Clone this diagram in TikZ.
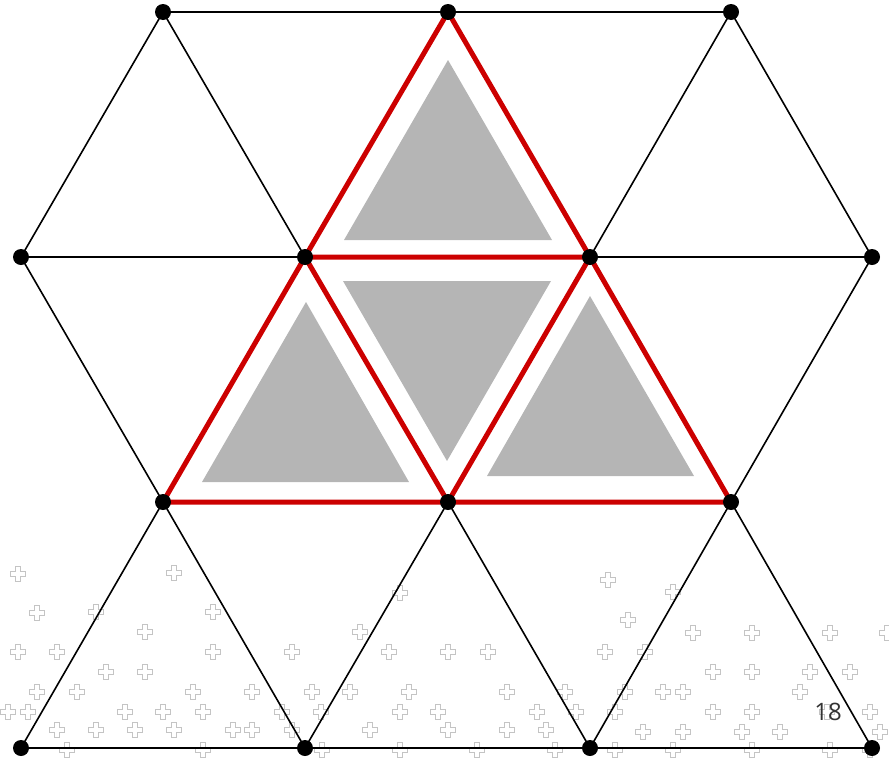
\documentclass[tikz,border=0pt]{standalone}
\usepackage{fontspec}
\newfontfamily\pagefont{Open Sans}
\definecolor{redline}{HTML}{CC0000}
\definecolor{fillgray}{HTML}{B5B5B5}
\definecolor{plusgray}{HTML}{C4C4C4}
\begin{document}
\begin{tikzpicture}[x=1pt,y=-1pt,
  edge/.style={black,line width=1.6pt},
  redge/.style={redline,line width=5pt,line cap=round,line join=round},
  tri/.style={fill=fillgray,draw=none},
  dot/.style={circle,fill=black,inner sep=0pt,minimum size=16pt},
  plusmark/.style={draw=plusgray,line width=0.8pt}]
\useasboundingbox (0,0) rectangle (889,758);
% background plus pattern
\foreach \px/\py in {18/574,174/573,37/613,96/612,213/612,145/632,18/652,57/652,213/652,292/652,
  106/672,145/672,37/692,77/692,193/692,252/692,8/712,28/712,125/712,163/712,203/712,282/712,
  57/730,96/730,135/730,174/730,233/730,252/730,292/730,67/750,203/750,
  400/593,360/632,389/652,448/652,488/652,312/692,350/692,409/692,507/692,565/692,
  321/712,400/712,438/712,537/712,576/712,370/730,448/730,507/730,546/730,322/750,400/750,477/750,555/750,
  608/580,673/592,628/620,693/633,752/633,830/633,887/633,605/652,645/652,713/672,752/672,810/672,850/672,
  625/692,663/692,683/692,800/692,615/712,713/712,752/712,827/712,870/712,643/732,683/732,742/732,780/732,880/732,
  615/750,673/750,752/750,830/750,870/750}
  \draw[plusmark,shift={(\px,\py)}] (-2.5,-7.5)--(2.5,-7.5)--(2.5,-2.5)--(7.5,-2.5)--(7.5,2.5)--(2.5,2.5)--(2.5,7.5)--(-2.5,7.5)--(-2.5,2.5)--(-7.5,2.5)--(-7.5,-2.5)--(-2.5,-2.5)--cycle;
% vertices
\coordinate (a1) at (163,12);  \coordinate (a2) at (448,12);  \coordinate (a3) at (731,12);
\coordinate (b1) at (21,257);  \coordinate (b2) at (305,257); \coordinate (b3) at (590,257); \coordinate (b4) at (872,257);
\coordinate (c1) at (163,502); \coordinate (c2) at (448,502); \coordinate (c3) at (731,502);
\coordinate (d1) at (21,748);  \coordinate (d2) at (305,748); \coordinate (d3) at (590,748); \coordinate (d4) at (872,748);
% black grid
\draw[edge] (a1)--(a3) (b1)--(b4) (c1)--(c3) (d1)--(d4);
\draw[edge] (b1)--(a1)--(b2)--(a2)--(b3)--(a3)--(b4);
\draw[edge] (b1)--(c1)--(b2)--(c2)--(b3)--(c3)--(b4);
\draw[edge] (d1)--(c1)--(d2)--(c2)--(d3)--(c3)--(d4);
% gray inner triangles
\fill[tri] (448,60)--(344,240)--(552,240)--cycle;
\fill[tri] (343,281)--(551,281)--(447,461)--cycle;
\fill[tri] (306,302)--(202,482)--(409,482)--cycle;
\fill[tri] (590,296)--(487,476)--(694,476)--cycle;
% red triangles
\draw[redge] (a2)--(b2)--(c1)--(c3)--(b3)--cycle;
\draw[redge] (b2)--(b3) (b2)--(c2)--(b3);
% dots
\foreach \v in {a1,a2,a3,b1,b2,b3,b4,c1,c2,c3,d1,d2,d3,d4}
  \node[dot] (n\v) at (\v) {};
% page number
\node[text=black!80,font=\pagefont\fontsize{24}{24}\selectfont,inner sep=0pt] (pg) at (828,712) {18};
\end{tikzpicture}
\end{document}
